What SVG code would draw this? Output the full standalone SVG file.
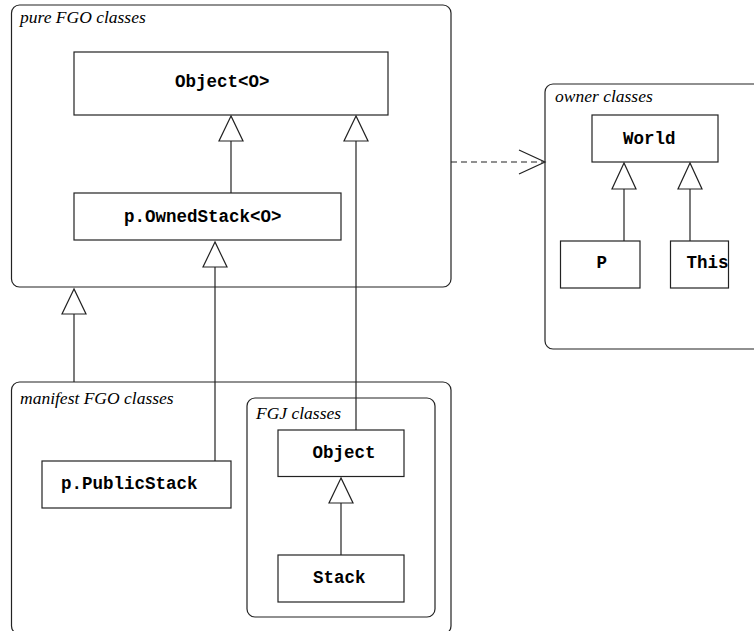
<svg xmlns="http://www.w3.org/2000/svg" width="754" height="631" viewBox="0 0 754 631">
<style>
.pkg{fill:none;stroke:#222;stroke-width:1.2}
.cls{fill:#fff;stroke:#222;stroke-width:1.2}
.lbl{font-family:"Liberation Serif",serif;font-style:italic;font-size:17.5px;fill:#000}
.nm{font-family:"Liberation Mono",monospace;font-weight:bold;font-size:17.5px;fill:#000}
.ln{fill:none;stroke:#222;stroke-width:1.2}
.tri{fill:#fff;stroke:#222;stroke-width:1.2}
</style>
<rect width="754" height="631" fill="#fff"/>
<g id="pkg-pure">
<rect class="pkg" x="11.5" y="5" width="439.5" height="282" rx="8"/>
<text class="lbl" x="20" y="23">pure FGO classes</text>
</g>
<g id="pkg-manifest">
<rect class="pkg" x="11.5" y="382" width="439.5" height="252" rx="8"/>
<text class="lbl" x="20" y="404">manifest FGO classes</text>
</g>
<g id="pkg-fgj">
<rect class="pkg" x="247" y="398" width="188" height="219" rx="8"/>
<text class="lbl" x="256" y="419">FGJ classes</text>
</g>
<g id="pkg-owner">
<rect class="pkg" x="545" y="84" width="220" height="265" rx="8"/>
<text class="lbl" x="555" y="102">owner classes</text>
</g>
<g id="connectors">
<line class="ln" x1="231" y1="141" x2="231" y2="193"/>
<polygon class="tri" points="231,116 219,141 243,141"/>
<line class="ln" x1="356" y1="141" x2="356" y2="430"/>
<polygon class="tri" points="356,116 344,141 368,141"/>
<line class="ln" x1="215" y1="267" x2="215" y2="461"/>
<polygon class="tri" points="215,242 203,267 227,267"/>
<line class="ln" x1="74" y1="314" x2="74" y2="382"/>
<polygon class="tri" points="74,289 62,314 86,314"/>
<line class="ln" x1="341" y1="503" x2="341" y2="555"/>
<polygon class="tri" points="341,478 329,503 353,503"/>
<line class="ln" x1="624" y1="189" x2="624" y2="241"/>
<polygon class="tri" points="624,163 612,189 636,189"/>
<line class="ln" x1="690" y1="189" x2="690" y2="241"/>
<polygon class="tri" points="690,163 678,189 702,189"/>
<line class="ln" x1="451" y1="162" x2="544" y2="162" stroke-dasharray="6,4"/>
<polyline class="ln" points="519,150 545,162 519,174"/>
</g>
<g id="n-object-o">
<rect class="cls" x="74" y="52" width="314" height="63"/>
<text class="nm" x="175" y="87">Object&lt;O&gt;</text>
</g>
<g id="n-ownedstack">
<rect class="cls" x="74" y="193" width="267" height="47"/>
<text class="nm" x="124" y="222">p.OwnedStack&lt;O&gt;</text>
</g>
<g id="n-publicstack">
<rect class="cls" x="42" y="461" width="189" height="47"/>
<text class="nm" x="61" y="489">p.PublicStack</text>
</g>
<g id="n-object">
<rect class="cls" x="278" y="430" width="126" height="46.5"/>
<text class="nm" x="312.5" y="458">Object</text>
</g>
<g id="n-stack">
<rect class="cls" x="278" y="555" width="126" height="47"/>
<text class="nm" x="313" y="583">Stack</text>
</g>
<g id="n-world">
<rect class="cls" x="592" y="115" width="126" height="47"/>
<text class="nm" x="623" y="144">World</text>
</g>
<g id="n-p">
<rect class="cls" x="560.5" y="241" width="79.5" height="47"/>
<text class="nm" x="596.5" y="268">P</text>
</g>
<g id="n-this">
<rect class="cls" x="670.5" y="241" width="58" height="47"/>
<text class="nm" x="686.5" y="268">This</text>
</g>
</svg>
